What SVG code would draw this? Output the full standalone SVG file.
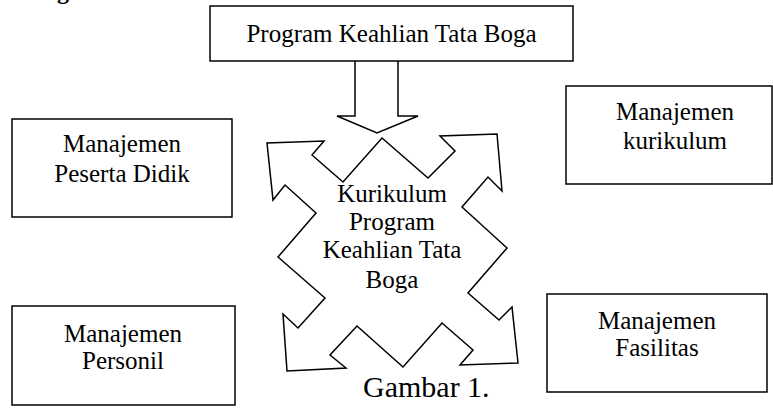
<svg xmlns="http://www.w3.org/2000/svg" width="773" height="408" viewBox="0 0 773 408">
<style>
.box{fill:#fff;stroke:#000;stroke-width:1.5}
.shape{fill:#fff;stroke:#000;stroke-width:1.5;stroke-linejoin:miter}
.t{font-family:"Liberation Serif","Times New Roman",serif;font-size:25px;fill:#000;text-anchor:middle}
.h{font-family:"Liberation Serif","Times New Roman",serif;font-size:24px;font-weight:bold;fill:#000}
</style>
<rect width="773" height="408" fill="#fff"/>
<text class="h" x="21" y="-1">Diagram</text>
<g id="connectors">
<path class="shape" d="M355,61 L355,116 L337,116 L377,133 L418,116 L398,116 L398,61"/>
</g>
<g id="program-keahlian">
<rect class="box" x="210" y="6" width="363" height="55"/>
<text class="t" x="391.5" y="42">Program Keahlian Tata Boga</text>
</g>
<g id="kurikulum-program">
<polygon class="shape" points="382,138 428,178 455,151 440,136 497,134 502,191 488,177 462,207 507,248 468,293 499,320 512,307 518,363 460,365 473,350 442,323 403,367 357,326 330,355 346,368 287,371 283,314 298,328 325,298 278,257 316,213 285,185 273,200 267,143 324,141 312,155 343,182"/>
<text class="t" x="392" y="202">Kurikulum</text>
<text class="t" x="392" y="230">Program</text>
<text class="t" x="392" y="258">Keahlian Tata</text>
<text class="t" x="392" y="288">Boga</text>
</g>
<g id="peserta-didik">
<rect class="box" x="12" y="119" width="220" height="98"/>
<text class="t" x="122" y="152">Manajemen</text>
<text class="t" x="122" y="182">Peserta Didik</text>
</g>
<g id="kurikulum">
<rect class="box" x="566" y="86" width="206" height="98"/>
<text class="t" x="675" y="120">Manajemen</text>
<text class="t" x="675" y="149">kurikulum</text>
</g>
<g id="personil">
<rect class="box" x="12" y="306" width="223" height="99"/>
<text class="t" x="123" y="342">Manajemen</text>
<text class="t" x="123" y="369">Personil</text>
</g>
<g id="fasilitas">
<rect class="box" x="547" y="294" width="220" height="98"/>
<text class="t" x="657" y="329">Manajemen</text>
<text class="t" x="657" y="356">Fasilitas</text>
</g>
<text x="363" y="397" style="font-family:'Liberation Serif','Times New Roman',serif;font-size:30px;fill:#000">Gambar 1.</text>
</svg>
